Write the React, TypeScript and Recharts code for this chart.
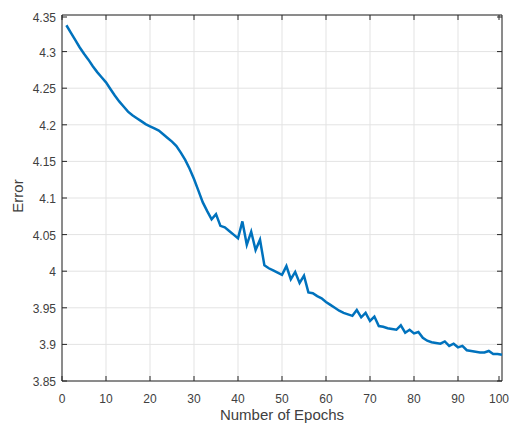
import { LineChart, Line, XAxis, YAxis, CartesianGrid, ReferenceLine } from "recharts";

// training error per epoch (epochs 1..100)
const errors = [
  4.336, 4.326, 4.316, 4.306, 4.297, 4.289, 4.28, 4.272, 4.265, 4.258,
  4.249, 4.24, 4.232, 4.225, 4.218, 4.213, 4.209, 4.205, 4.201, 4.198,
  4.195, 4.192, 4.187, 4.182, 4.177, 4.171, 4.162, 4.152, 4.14, 4.126,
  4.11, 4.094, 4.082, 4.071, 4.078, 4.062, 4.06, 4.055, 4.05, 4.045,
  4.068, 4.036, 4.054, 4.029, 4.043, 4.008, 4.004, 4.001, 3.998, 3.995,
  4.007, 3.989, 3.999, 3.984, 3.994, 3.971, 3.97, 3.966, 3.963, 3.958,
  3.954, 3.95, 3.946, 3.943, 3.941, 3.939, 3.947, 3.937, 3.943, 3.932,
  3.938, 3.925, 3.924, 3.922, 3.921, 3.92, 3.926, 3.916, 3.92, 3.915,
  3.917, 3.909, 3.905, 3.903, 3.902, 3.901, 3.904, 3.898, 3.901, 3.896,
  3.898, 3.892, 3.891, 3.89, 3.889, 3.889, 3.891, 3.887, 3.887, 3.886,
];

const xTicks = [0, 10, 20, 30, 40, 50, 60, 70, 80, 90, 100];
const yTicks = [3.85, 3.9, 3.95, 4, 4.05, 4.1, 4.15, 4.2, 4.25, 4.3, 4.35];

const data = errors.map((e, i) => ({ epoch: i + 1, error: e }));

const AX = "#262626";
const TXT = "#404040";
const FONT = "'Liberation Sans', Arial, sans-serif";
const W = 503;
const H = 415;
const M = { top: 7, right: 9, left: 0, bottom: 0 };
const TOP = M.top;
const RIGHT = W - M.right;

const XTick = ({ x, y, payload }: any) => (
  <g>
    <line x1={x} x2={x} y1={y} y2={y - 5} stroke={AX} />
    <line x1={x} x2={x} y1={TOP} y2={TOP + 5} stroke={AX} />
    <text x={x} y={y + 22} textAnchor="middle" fill={TXT} fontSize={12} fontFamily={FONT}>
      {payload.value}
    </text>
  </g>
);

const YTick = ({ x, y, payload }: any) => (
  <g>
    <line x1={x} x2={x + 5} y1={y} y2={y} stroke={AX} />
    <line x1={RIGHT} x2={RIGHT - 5} y1={y} y2={y} stroke={AX} />
    <text x={x - 6} y={y + 5} textAnchor="end" fill={TXT} fontSize={12} fontFamily={FONT}>
      {payload.value}
    </text>
  </g>
);

const YLabel = ({ viewBox }: any) => {
  const cx = 15;
  const cy = viewBox.y + viewBox.height / 2 - 2;
  return (
    <text
      x={cx}
      y={cy}
      transform={`rotate(-90 ${cx} ${cy})`}
      textAnchor="middle"
      fill={TXT}
      fontSize={15}
      fontFamily={FONT}
    >
      Error
    </text>
  );
};

export default function App() {
  return (
    <div style={{ paddingLeft: 8, paddingTop: 8 }}>
      <style>{"body { margin: 0; }"}</style>
      <div style={{ width: W, height: H }}>
        <LineChart width={W} height={H} data={data} margin={M}>
          <CartesianGrid stroke="#e3e3e3" strokeWidth={1} />
          <XAxis
            dataKey="epoch"
            type="number"
            domain={[0, 100]}
            ticks={xTicks}
            height={H - M.top - 366}
            tickSize={0}
            tickMargin={0}
            tickLine={false}
            axisLine={{ stroke: AX }}
            tick={<XTick />}
            label={{
              value: "Number of Epochs",
              position: "insideBottom",
              offset: 3,
              fill: TXT,
              fontSize: 15,
              fontFamily: FONT,
            }}
          />
          <YAxis
            type="number"
            domain={[3.85, 4.35]}
            ticks={yTicks}
            width={54}
            tickSize={0}
            tickMargin={0}
            tickLine={false}
            axisLine={{ stroke: AX }}
            tick={<YTick />}
            allowDataOverflow
            label={<YLabel />}
          />
          <ReferenceLine y={4.35} stroke={AX} />
          <ReferenceLine x={100} stroke={AX} />
          <Line
            type="linear"
            dataKey="error"
            stroke="#0072BD"
            strokeWidth={2.5}
            dot={false}
            isAnimationActive={false}
          />
        </LineChart>
      </div>
    </div>
  );
}
